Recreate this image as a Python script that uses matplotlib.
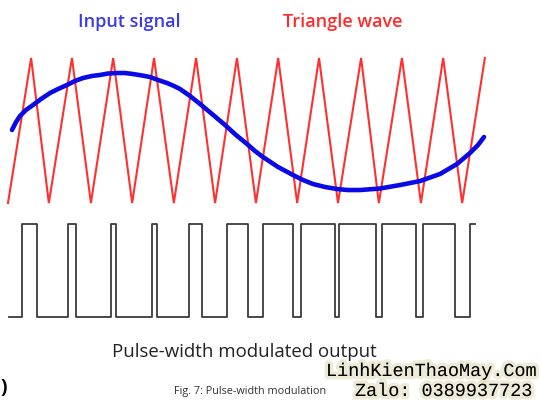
import matplotlib
matplotlib.use('Agg')
import matplotlib.pyplot as plt
import matplotlib.patheffects as pe

# triangle carrier: troughs (v=-1) and peaks (v=+1), time in carrier periods
trough_t = [0.0, 0.99, 2.01, 3.01, 4.02, 5.02, 6.01, 7.01, 8.0, 8.99, 10.01, 11.01]
peak_t = [0.56, 1.55, 2.55, 3.54, 4.56, 5.55, 6.55, 7.54, 8.56, 9.55, 10.55, 11.56]

# input signal
sig_t = [0.097, 0.194, 0.291, 0.436, 0.606, 0.800, 1.018, 1.212, 1.430, 1.624,
         1.818, 2.036, 2.230, 2.424, 2.642, 2.836, 3.030, 3.248, 3.442, 3.636,
         3.855, 4.024, 4.170, 4.412, 4.655, 4.945, 5.261, 5.527, 5.794, 5.988,
         6.182, 6.545, 6.909, 7.152, 7.394, 7.685, 7.976, 8.242, 8.533, 9.018,
         9.503, 9.988, 10.473, 10.885, 11.200, 11.394, 11.539]
sig_v = [0.007, 0.117, 0.200, 0.283, 0.352, 0.434, 0.517, 0.572, 0.628, 0.683,
         0.724, 0.752, 0.766, 0.786, 0.793, 0.793, 0.779, 0.759, 0.738, 0.697,
         0.655, 0.614, 0.572, 0.476, 0.366, 0.228, 0.076, -0.062, -0.186, -0.283,
         -0.366, -0.503, -0.614, -0.683, -0.738, -0.779, -0.807, -0.821, -0.821, -0.800,
         -0.752, -0.697, -0.600, -0.462, -0.310, -0.200, -0.090]

# PWM output edges
pwm_start = 0.02
rise_t = [0.34, 1.46, 2.50, 3.49, 4.39, 5.31, 6.18, 7.10, 8.02, 9.07, 10.06, 11.20]
fall_t = [0.70, 1.65, 2.62, 3.61, 4.70, 5.82, 6.91, 7.93, 8.92, 9.89, 10.84, 11.32]

fig = plt.figure(figsize=(5.41, 4.0), dpi=100)
fig.patch.set_facecolor('white')

xlim = (-0.194, 12.921)

ax = fig.add_axes([0, 0, 1, 1])
ax.set_xlim(*xlim)
ax.set_ylim(-3.717, 1.8)
ax.axis('off')

tri_t, tri_v = [], []
for a, b in zip(trough_t, peak_t):
    tri_t += [a, b]
    tri_v += [-1, 1]
ax.plot(tri_t, tri_v, color='#ff3030', lw=1.5, solid_joinstyle='miter')
ax.plot(sig_t, sig_v, color='#0a0ae6', lw=3.3, solid_capstyle='round',
        solid_joinstyle='round')

ax2 = fig.add_axes([0, 0, 1, 1])
ax2.set_xlim(*xlim)
ax2.set_ylim(-0.892, 3.409)
ax2.axis('off')
ax2.patch.set_alpha(0)

px, py = [pwm_start], [0]
for i, (r, f) in enumerate(zip(rise_t, fall_t)):
    px += [r, r, f]
    py += [0, 1, 1]
    if i < len(rise_t) - 1:
        px += [f]
        py += [0]
ax2.plot(px, py, color='#3a3a3a', lw=1.3)

W, H = 541, 400
fam = ['Open Sans', 'DejaVu Sans']
fig.text(78 / W, 1 - 27 / H, 'Input signal', color='#3a3ae8', fontsize=13,
         fontweight='semibold', family=fam, ha='left', va='baseline')
fig.text(283 / W, 1 - 27 / H, 'Triangle wave', color='#ff2b2b', fontsize=13,
         fontweight='semibold', family=fam, ha='left', va='baseline')
fig.text(244 / W, 1 - 357 / H, 'Pulse-width modulated output', color='#222222',
         fontsize=13.4, family=fam, ha='center', va='baseline')
fig.text(250 / W, 1 - 394 / H, 'Fig. 7: Pulse-width modulation', color='#333333',
         fontsize=7.8, family=fam, ha='center', va='baseline')
fig.text(0 / W, 1 - 393 / H, ')', color='black', fontsize=14, fontweight='bold',
         family=fam, ha='left', va='baseline')

glow = [pe.withStroke(linewidth=5, foreground='#d8d2a8', alpha=0.45)]
mono = ['Liberation Mono', 'DejaVu Sans Mono']
fig.text(326 / W, 1 - 376 / H, 'LinhKienThaoMay.Com', color='black', fontsize=13.3,
         family=mono, ha='left', va='baseline', path_effects=glow)
fig.text(355 / W, 1 - 396 / H, 'Zalo: 0389937723', color='black', fontsize=13.3,
         family=mono, ha='left', va='baseline', path_effects=glow)

fig.savefig('out.png', dpi=100)
